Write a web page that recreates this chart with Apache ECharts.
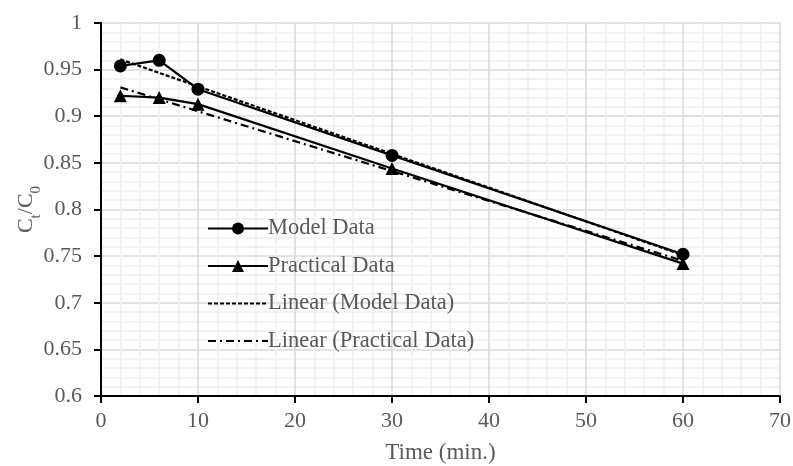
<!DOCTYPE html>
<html><head><meta charset="utf-8">
<script src="https://cdn.jsdelivr.net/npm/echarts@6/dist/echarts.min.js"></script>
<style>html,body{margin:0;padding:0;background:#fff}#c{width:793px;height:466px}</style>
</head><body><div id="c"></div>
<script>
const timeMin = [2, 6, 10, 30, 60];
const modelData = [0.954, 0.960, 0.929, 0.858, 0.752];
const practicalData = [0.922, 0.920, 0.913, 0.844, 0.742];
const modelTrendX = [2, 60];
const modelTrendY = [0.961, 0.751];
const practicalTrendX = [2, 60];
const practicalTrendY = [0.931, 0.745];
const seriesNames = ['Model Data', 'Practical Data', 'Linear (Model Data)', 'Linear (Practical Data)'];

const pair = (xs, ys) => xs.map((x, i) => [x, ys[i]]);
const font = 'Liberation Serif, Times New Roman, serif';
const txt = '#595959';

const chart = echarts.init(document.getElementById('c'));
chart.setOption({
  animation: false,
  backgroundColor: '#fff',
  grid: { left: 101, right: 13, top: 23, bottom: 70, containLabel: false, outerBoundsMode: 'none' },
  legend: {
    orient: 'vertical', left: 202, top: 212, itemWidth: 60, itemHeight: 15, itemGap: 14.5,
    textStyle: { fontFamily: font, fontSize: 22.5, color: txt, padding: [0, 0, 0, -5] },
    data: [
      { name: seriesNames[0] },
      { name: seriesNames[1] },
      { name: seriesNames[2], itemStyle: { opacity: 0 } },
      { name: seriesNames[3], itemStyle: { opacity: 0 } }
    ]
  },
  xAxis: {
    type: 'value', min: 0, max: 70, interval: 10,
    name: 'Time (min.)', nameLocation: 'middle', nameGap: 45, nameMoveOverlap: false,
    nameTextStyle: { fontFamily: font, fontSize: 23, color: txt },
    axisLine: { lineStyle: { color: '#000', width: 2 } },
    axisTick: { show: true, length: 7, lineStyle: { color: '#000', width: 2 } },
    axisLabel: { fontFamily: font, fontSize: 22, color: txt, margin: 14 },
    splitLine: { show: true, lineStyle: { color: '#d9d9d9', width: 1.5 } },
    minorTick: { show: false, splitNumber: 5 },
    minorSplitLine: { show: true, lineStyle: { color: '#efefef', width: 1.5 } }
  },
  yAxis: {
    type: 'value', min: 0.6, max: 1, interval: 0.05,
    name: '{a|C}{s|t}{a|/C}{s|0}', nameLocation: 'middle', nameGap: 64, nameRotate: 90, nameMoveOverlap: false,
    nameTextStyle: {
      fontFamily: font, color: txt,
      rich: {
        a: { fontFamily: font, fontSize: 22, color: txt },
        s: { fontFamily: font, fontSize: 15, color: txt, verticalAlign: 'bottom', padding: [0, 0, -7, 0] }
      }
    },
    axisLine: { show: true, lineStyle: { color: '#000', width: 2 } },
    axisTick: { show: true, length: 7, lineStyle: { color: '#000', width: 2 } },
    axisLabel: { fontFamily: font, fontSize: 22, color: txt, margin: 19 },
    splitLine: { show: true, lineStyle: { color: '#d9d9d9', width: 1.5 } },
    minorTick: { show: false, splitNumber: 5 },
    minorSplitLine: { show: true, lineStyle: { color: '#efefef', width: 1.5 } }
  },
  series: [
    { name: seriesNames[0], type: 'line', data: pair(timeMin, modelData), symbol: 'circle', symbolSize: 13,
      itemStyle: { color: '#000' }, lineStyle: { color: '#000', width: 2.2 }, z: 5 },
    { name: seriesNames[1], type: 'line', data: pair(timeMin, practicalData), symbol: 'triangle', symbolSize: 13,
      itemStyle: { color: '#000' }, lineStyle: { color: '#000', width: 2.2 }, z: 5 },
    { name: seriesNames[2], type: 'line', data: pair(modelTrendX, modelTrendY), symbol: 'none',
      itemStyle: { color: '#000' }, lineStyle: { color: '#000', width: 2.2, type: [4, 2] }, z: 4 },
    { name: seriesNames[3], type: 'line', data: pair(practicalTrendX, practicalTrendY), symbol: 'none',
      itemStyle: { color: '#000' }, lineStyle: { color: '#000', width: 2.2, type: [8, 4, 2, 4] }, z: 4 }
  ]
});
</script></body></html>
